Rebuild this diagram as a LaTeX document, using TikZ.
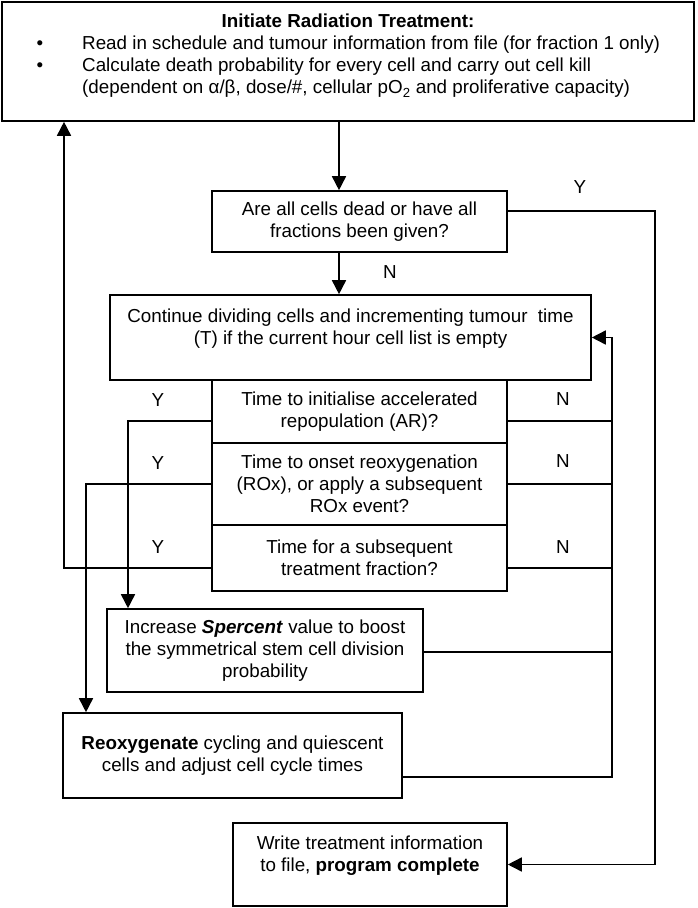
\documentclass[tikz,border=0pt]{standalone}
\usepackage{fontspec}
\setmainfont{Liberation Sans}
\usetikzlibrary{arrows.meta}
\begin{document}
\begin{tikzpicture}[x=1pt,y=-1pt,
  box/.style={draw, line width=1.6pt, inner sep=0pt, rectangle, align=center, font=\fontsize{18.8}{22}\selectfont},
  txt/.style={align=center, inner sep=0pt, font=\fontsize{18.8}{22}\selectfont},
  lbl/.style={inner sep=0pt, font=\fontsize{18.8}{22}\selectfont},
  conn/.style={line width=1.6pt},
  arr/.style={conn, -{Triangle[length=14pt,width=14pt]}},
]
\useasboundingbox (0,0) rectangle (697,908);
% boxes
\node[box, minimum width=692pt, minimum height=119pt] (top) at (348,61.5) {};
\node[lbl, font=\bfseries\fontsize{18.8}{22}\selectfont] (title) at (348,21) {Initiate Radiation Treatment:};
\node[lbl] (bu1) at (40,45) {•};
\node[lbl] (bu2) at (40,67) {•};
\node[lbl, anchor=west] (l1) at (82,45) {Read in schedule and tumour information from file (for fraction 1 only)};
\node[lbl, anchor=west] (l2) at (82,67) {Calculate death probability for every cell and carry out cell kill};
\node[lbl, anchor=west] (l3) at (82,89) {(dependent on α/β, dose/\#, cellular pO\textsubscript{2} and proliferative capacity)};

\node[box, minimum width=295pt, minimum height=61pt] (dec) at (359.5,221.5) {Are all cells dead or have all\\fractions been given?};

\node[box, minimum width=481pt, minimum height=85pt] (cont) at (350.5,337.5) {};
\node[txt] (contt) at (350.5,329) {Continue dividing cells and incrementing tumour~ time\\(T) if the current hour cell list is empty};

\node[box, minimum width=295pt, minimum height=63pt] (t1) at (359.5,411.5) {Time to initialise accelerated\\repopulation (AR)?};
\node[box, minimum width=295pt, minimum height=82pt] (t2) at (359.5,484) {Time to onset reoxygenation\\(ROx), or apply a subsequent\\ROx event?};
\node[box, minimum width=295pt, minimum height=66pt] (t3) at (359.5,558) {Time for a subsequent\\treatment fraction?};

\node[box, minimum width=316pt, minimum height=83pt] (sp) at (265,650.5) {Increase \textbf{\textit{Spercent}} value to boost\\the symmetrical stem cell division\\probability};
\node[box, minimum width=339pt, minimum height=85pt] (re) at (232.5,755.5) {\textbf{Reoxygenate} cycling and quiescent\\cells and adjust cell cycle times};

\node[box, minimum width=274pt, minimum height=83pt] (wr) at (370,864.5) {};
\node[txt] (wrt) at (370,856) {Write treatment information\\to file, \textbf{program complete}};

% main flow
\coordinate (ax) at (339,0);
\draw[arr] (top.south -| ax) -- (dec.north -| ax);
\draw[arr] (dec.south -| ax) -- (cont.north -| ax);
\node[lbl] (nlab) at (390,272) {N};

% Y from decision to write
\coordinate (ry) at (655,211);
\draw[arr] (dec.east |- ry) -- (ry) -- (ry |- wr.east) -- (wr.east);
\node[lbl] (ylab) at (580,187) {Y};

% N loop back to continue box
\coordinate (nx) at (612,777);
\draw[arr] (re.east |- nx) -- (nx) -- (nx |- cont.east) -- (cont.east);
\coordinate (n1) at (612,421);
\coordinate (n2) at (612,484);
\coordinate (n3) at (612,568);
\coordinate (n4) at (612,652);
\draw[conn] (t1.east |- n1) -- (n1);
\draw[conn] (t2.east |- n2) -- (n2);
\draw[conn] (t3.east |- n3) -- (n3);
\draw[conn] (sp.east |- n4) -- (n4);
\node[lbl] (nl1) at (563,399) {N};
\node[lbl] (nl2) at (563,461) {N};
\node[lbl] (nl3) at (563,547) {N};

% Y branches
\coordinate (y1) at (128,421);
\coordinate (y2) at (86,484);
\coordinate (y3) at (64,568);
\draw[arr] (t1.west |- y1) -- (y1) -- (y1 |- sp.north);
\draw[arr] (t2.west |- y2) -- (y2) -- (y2 |- re.north);
\draw[arr] (t3.west |- y3) -- (y3) -- (y3 |- top.south);
\node[lbl] (yl1) at (158,400) {Y};
\node[lbl] (yl2) at (158,463) {Y};
\node[lbl] (yl3) at (158,547) {Y};
\end{tikzpicture}
\end{document}
